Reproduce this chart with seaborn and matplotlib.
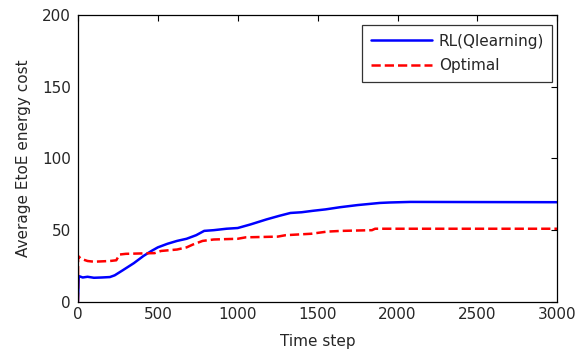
import pandas as pd
import matplotlib.pyplot as plt
import seaborn as sns

rl_steps = [0, 2, 5, 30, 60, 100, 150, 200, 230, 280, 350, 410, 460, 500, 560, 620, 680, 740, 790,
            850, 930, 1000, 1080, 1180, 1260, 1330, 1400, 1470, 1550, 1640, 1750, 1890, 1950, 2080, 2500, 3000]
rl_cost = [0, 6, 18, 17, 17.5, 16.8, 17, 17.3, 18.5, 22, 27, 32, 35.5, 38, 40.5, 42.5, 44, 46.5, 49.5,
           50, 51, 51.5, 54, 57.5, 60, 62, 62.5, 63.5, 64.5, 66, 67.5, 69, 69.3, 69.7, 69.6, 69.5]

opt_steps = [0, 1, 20, 60, 100, 200, 240, 260, 300, 480, 520, 620, 680, 720, 780, 850, 1000, 1050,
             1250, 1300, 1460, 1560, 1650, 1840, 1860, 3000]
opt_cost = [0, 32, 30, 28.5, 28, 28.5, 29, 33, 33.5, 34, 35.5, 36.5, 38, 40, 42.5, 43.5, 44, 45,
            45.5, 46.5, 47.5, 49, 49.5, 50, 51, 51]

rl_df = pd.DataFrame({'step': rl_steps, 'cost': rl_cost})
opt_df = pd.DataFrame({'step': opt_steps, 'cost': opt_cost})

sns.set_style('white')
plt.rcParams['font.family'] = ['DejaVu Sans']
fs = 11

fig, ax = plt.subplots(figsize=(5.86, 3.51), dpi=100)
sns.lineplot(data=rl_df, x='step', y='cost', color='#0000ff', lw=1.8, label='RL(Qlearning)', ax=ax)
sns.lineplot(data=opt_df, x='step', y='cost', color='#ff0000', lw=1.8, ls='--', label='Optimal', ax=ax)

ax.set_xlim(0, 3000)
ax.set_ylim(0, 200)
ax.set_xticks(range(0, 3001, 500))
ax.set_yticks(range(0, 201, 50))
ax.set_xlabel('Time step', fontsize=fs, labelpad=8)
ax.set_ylabel('Average EtoE energy cost', fontsize=fs, labelpad=8)
ax.tick_params(direction='in', length=4, width=0.8, labelsize=fs, top=True, right=True,
               labeltop=False, labelright=False, color='black')
ax.tick_params(axis='x', pad=4)
ax.tick_params(axis='y', pad=5)
for s in ax.spines.values():
    s.set_color('black')
    s.set_linewidth(0.9)

leg = ax.legend(loc='upper right', bbox_to_anchor=(0.99, 0.965), borderaxespad=0,
                fontsize=fs, frameon=True, fancybox=False, edgecolor='black',
                handlelength=4.0, handletextpad=0.45, labelspacing=0.65, borderpad=0.55)
leg.get_frame().set_linewidth(0.9)

plt.subplots_adjust(left=0.133, right=0.951, top=0.957, bottom=0.14)
plt.savefig('out.png', dpi=100)
plt.close()
